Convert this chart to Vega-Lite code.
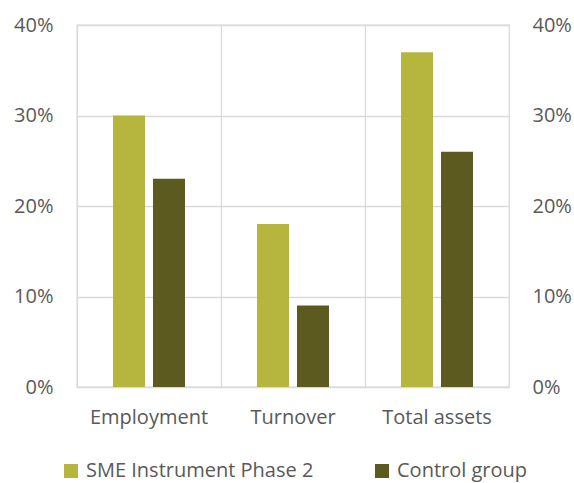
{
  "$schema": "https://vega.github.io/schema/vega-lite/v6.json",
  "width": 432,
  "height": 362,
  "autosize": "none",
  "padding": {"left": 77, "top": 25, "right": 65, "bottom": 96},
  "background": "white",
  "config": {
    "view": {"stroke": "#d9d9d9", "strokeWidth": 1.3},
    "font": "Open Sans",
    "axis": {"labelColor": "#595959", "labelFont": "Open Sans", "labelFontSize": 20, "domain": false, "ticks": false, "gridColor": "#d9d9d9", "gridWidth": 1.3, "title": null}
  },
  "data": {
    "values": [
      {"category": "Employment", "group": "SME Instrument Phase 2", "value": 0.30},
      {"category": "Employment", "group": "Control group", "value": 0.23},
      {"category": "Turnover", "group": "SME Instrument Phase 2", "value": 0.18},
      {"category": "Turnover", "group": "Control group", "value": 0.09},
      {"category": "Total assets", "group": "SME Instrument Phase 2", "value": 0.37},
      {"category": "Total assets", "group": "Control group", "value": 0.26}
    ]
  },
  "encoding": {
    "x": {
      "field": "category", "type": "nominal", "sort": ["Employment", "Turnover", "Total assets"],
      "scale": {"paddingInner": 0, "paddingOuter": 0},
      "axis": {"labelAngle": 0, "labelPadding": 20, "grid": true, "bandPosition": 0}
    }
  },
  "layer": [
    {
      "mark": {"type": "bar"},
      "encoding": {
        "xOffset": {"field": "group", "type": "nominal", "sort": ["SME Instrument Phase 2", "Control group"], "scale": {"paddingInner": 0.2, "paddingOuter": 0.9}},
        "y": {"field": "value", "type": "quantitative", "scale": {"domain": [0, 0.4]},
          "axis": {"values": [0, 0.1, 0.2, 0.3, 0.4], "format": ".0%", "labelPadding": 24, "grid": true}},
        "color": {
          "field": "group", "type": "nominal",
          "sort": ["SME Instrument Phase 2", "Control group"],
          "scale": {"domain": ["SME Instrument Phase 2", "Control group"], "range": ["#b6b53e", "#5c5a1f"]},
          "legend": {"title": null, "orient": "none", "direction": "horizontal", "legendX": -16, "legendY": 436, "symbolType": "square", "symbolSize": 196, "symbolStrokeWidth": 0, "labelFontSize": 20, "labelColor": "#595959", "labelFont": "Open Sans", "labelOffset": 5, "columnPadding": 58, "labelLimit": 400}
        }
      }
    },
    {
      "mark": {"type": "tick", "opacity": 0},
      "encoding": {
        "y": {"field": "value", "type": "quantitative", "scale": {"domain": [0, 0.4]},
          "axis": {"orient": "right", "values": [0, 0.1, 0.2, 0.3, 0.4], "format": ".0%", "labelPadding": 23, "grid": false}}
      }
    }
  ],
  "resolve": {"scale": {"y": "independent"}}
}
